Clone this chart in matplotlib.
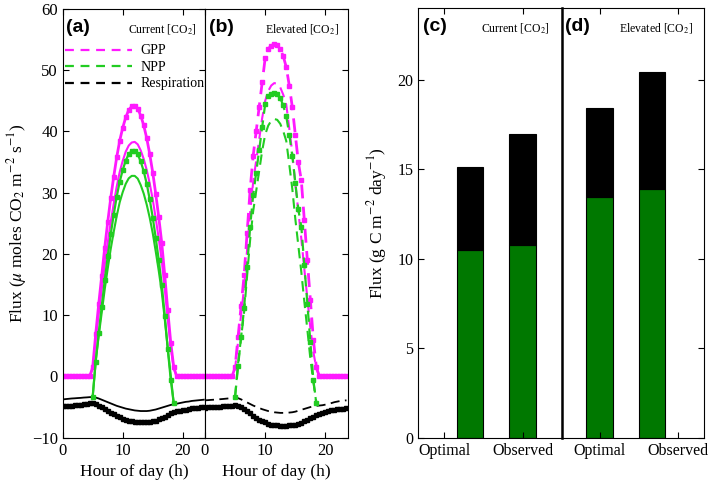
import numpy as np
import matplotlib.pyplot as plt
from matplotlib.lines import Line2D

plt.rcParams['font.family'] = ['Liberation Serif', 'DejaVu Serif']
plt.rcParams['mathtext.fontset'] = 'stix'

# ------------------------------------------------
# data: half-hourly fluxes (umol CO2 m-2 s-1)
# ------------------------------------------------
hours = np.arange(0, 24, 0.5)
night0 = [0.0] * 10   # 0.0 .. 4.5 h
night1 = [0.0] * 10   # 19.0 .. 23.5 h
nan0 = [np.nan] * 10
nan1 = [np.nan] * 10

# (a) current CO2, daytime part 5.0 .. 18.5 h
gpp_a_obs = night0 + [1.5, 6.9, 11.8, 16.4, 21.0, 25.2, 29.1, 32.6, 35.8, 38.5,
                      40.6, 42.3, 43.5, 44.1, 44.2, 43.7, 42.6, 41.0, 38.9, 36.3,
                      33.3, 29.8, 26.0, 21.8, 16.5, 10.8, 5.5, 1.5] + night1
gpp_a_opt = night0 + [1.3, 6.0, 10.2, 14.2, 18.2, 21.8, 25.2, 28.2, 31.0, 33.4,
                      35.2, 36.7, 37.7, 38.2, 38.3, 37.9, 36.9, 35.5, 33.7, 31.5,
                      28.9, 25.8, 22.5, 18.9, 14.3, 9.4, 4.8, 1.3] + night1
npp_a_obs = nan0 + [-3.3, 2.4, 7.05, 11.4, 15.7, 19.6, 23.2, 26.4, 29.35, 31.8,
                    33.7, 35.25, 36.3, 36.8, 36.8, 36.25, 35.1, 33.5, 31.45, 28.9,
                    25.95, 22.6, 19.0, 15.0, 9.95, 4.5, -0.55, -4.4] + nan1
npp_a_opt = nan0 + [-3.3, 2.55, 6.6, 10.4, 14.2, 17.6, 20.8, 23.6, 26.2, 28.45,
                    30.1, 31.45, 32.35, 32.75, 32.75, 32.3, 31.25, 29.85, 28.05, 25.9,
                    23.4, 20.4, 17.25, 13.8, 9.35, 4.6, 0.15, -4.4] + nan1
resp_a_obs = [-4.9, -4.85, -4.8, -4.75, -4.7, -4.65, -4.6, -4.5, -4.45, -4.4,
              -4.35, -4.5, -4.75, -5.0, -5.3, -5.6, -5.9, -6.2, -6.45, -6.7,
              -6.9, -7.05, -7.2, -7.3, -7.4, -7.45, -7.5, -7.5, -7.45, -7.4,
              -7.35, -7.2, -7.0, -6.8, -6.55, -6.3, -6.05, -5.85, -5.7, -5.6,
              -5.5, -5.4, -5.3, -5.2, -5.15, -5.1, -5.05, -5.0]
resp_a_opt = [-3.75, -3.7, -3.65, -3.6, -3.57, -3.53, -3.5, -3.45, -3.42, -3.38,
              -3.35, -3.45, -3.6, -3.8, -4.0, -4.2, -4.4, -4.6, -4.8, -4.95,
              -5.1, -5.25, -5.35, -5.45, -5.55, -5.6, -5.65, -5.65, -5.65, -5.6,
              -5.5, -5.4, -5.25, -5.1, -4.95, -4.8, -4.65, -4.55, -4.45, -4.35,
              -4.25, -4.15, -4.1, -4.0, -3.95, -3.9, -3.85, -3.8]

# (b) elevated CO2
gpp_b_obs = night0 + [1.5, 6.5, 11.5, 16.5, 23.5, 30.5, 36.0, 40.0, 44.0, 48.0,
                      52.0, 53.5, 54.0, 54.3, 54.2, 53.5, 52.3, 50.5, 47.5, 44.0,
                      39.5, 35.0, 32.0, 25.5, 19.0, 12.5, 6.0, 1.5] + night1
gpp_b_opt = night0 + [1.3, 5.7, 10.1, 14.5, 20.7, 26.8, 31.7, 35.2, 38.7, 42.2,
                      45.0, 46.6, 47.5, 47.9, 47.8, 47.2, 46.0, 44.4, 40.5, 36.5,
                      31.5, 27.0, 22.5, 17.5, 12.8, 7.9, 4.0, 1.3] + night1
npp_b_obs = nan0 + [-3.3, 1.7, 6.45, 11.15, 17.8, 24.45, 29.6, 33.25, 36.95, 40.7,
                    44.5, 45.8, 46.15, 46.35, 46.2, 45.45, 44.25, 42.45, 39.5, 36.05,
                    31.65, 27.3, 24.45, 18.15, 11.9, 5.65, -0.6, -4.4] + nan1
npp_b_opt = nan0 + [-3.3, 2.15, 6.35, 10.5, 16.45, 22.3, 26.95, 30.25, 33.55, 36.85,
                    39.5, 40.95, 41.75, 42.05, 41.9, 41.25, 40.05, 38.45, 34.6, 30.65,
                    25.75, 21.4, 17.05, 12.2, 7.65, 2.9, -0.9, -4.4] + nan1
resp_b_obs = [-5.1, -5.07, -5.05, -5.0, -4.98, -4.95, -4.9, -4.85, -4.8, -4.75,
              -4.7, -4.8, -5.05, -5.35, -5.7, -6.05, -6.4, -6.75, -7.05, -7.3,
              -7.5, -7.7, -7.85, -7.95, -8.0, -8.05, -8.05, -8.05, -8.0, -7.95,
              -7.85, -7.7, -7.55, -7.35, -7.1, -6.85, -6.6, -6.35, -6.15, -5.95,
              -5.8, -5.65, -5.55, -5.45, -5.35, -5.3, -5.25, -5.2]
resp_b_opt = [-3.9, -3.87, -3.83, -3.8, -3.76, -3.72, -3.68, -3.63, -3.58, -3.52,
              -3.45, -3.55, -3.75, -4.0, -4.25, -4.5, -4.75, -4.95, -5.15, -5.35,
              -5.5, -5.65, -5.75, -5.85, -5.9, -5.95, -5.95, -5.95, -5.9, -5.85,
              -5.75, -5.6, -5.45, -5.3, -5.15, -5.0, -4.9, -4.8, -4.75, -4.7,
              -4.6, -4.5, -4.35, -4.2, -4.1, -4.0, -3.95, -3.9]

# daily totals (g C m-2 day-1): NPP (green) + respiration (black) stacked
bar_labels = ['Optimal', 'Observed']
npp_cur = [10.48, 10.78]
tot_cur = [15.11, 16.98]
npp_ele = [13.47, 13.92]
tot_ele = [18.41, 20.45]

MAG = '#ff19ff'
GRN = '#22cc22'
BARG = '#007800'

fig = plt.figure(figsize=(7.09, 4.84), dpi=100)
ax_a = fig.add_axes([0.0884, 0.0957, 0.2007, 0.8857])
ax_b = fig.add_axes([0.2891, 0.0957, 0.2013, 0.8857], sharey=ax_a)
ax_c = fig.add_axes([0.5896, 0.0957, 0.2027, 0.8872])
ax_d = fig.add_axes([0.7922, 0.0957, 0.2007, 0.8872], sharey=ax_c)


def draw_day(ax, gpp_obs, gpp_opt, npp_obs, npp_opt, r_obs, r_opt, ls):
    ax.plot(hours, r_opt, color='black', lw=1.3, ls=ls)
    ax.plot(hours, r_obs, color='black', lw=1.5, marker='s', ms=3.2)
    ax.plot(hours, gpp_opt, color=MAG, lw=1.5, ls=ls)
    ax.plot(hours, gpp_obs, color=MAG, lw=2.0, ls=ls, marker='s', ms=3.2)
    ax.plot(hours, npp_opt, color=GRN, lw=1.5, ls=ls)
    ax.plot(hours, npp_obs, color=GRN, lw=1.6, ls=ls, marker='s', ms=3.2)


draw_day(ax_a, gpp_a_obs, gpp_a_opt, npp_a_obs, npp_a_opt, resp_a_obs, resp_a_opt, '-')
draw_day(ax_b, gpp_b_obs, gpp_b_opt, npp_b_obs, npp_b_opt, resp_b_obs, resp_b_opt, (0, (5, 3)))

for ax in (ax_a, ax_b):
    ax.set_xlim(0, 23.7)
    ax.set_xticks([0, 10, 20])
    ax.set_xlabel('Hour of day (h)', fontsize=12.5)
    ax.tick_params(direction='in', top=True, labelsize=12, length=4)
ax_a.set_ylim(-10, 60)
ax_a.set_yticks(np.arange(-10, 61, 10))
ax_a.tick_params(axis='y', right=True)
ax_b.tick_params(axis='y', left=False, right=True, labelleft=False)
ax_a.set_ylabel(r'Flux ($\mu$ moles CO$_2$ m$^{-2}$ s$^{-1}$)', fontsize=12.5, labelpad=2)

handles = [Line2D([], [], color=c, lw=1.6, ls=(0, (4, 3))) for c in (MAG, GRN, 'black')]
ax_a.legend(handles, ['GPP', 'NPP', 'Respiration'], loc='upper left',
            bbox_to_anchor=(-0.05, 0.94), frameon=False, fontsize=10,
            handlelength=4.8, handletextpad=0.6, labelspacing=0.25,
            borderaxespad=0.3)

# bars
x_bar_c = [2, 4]
x_bar_d = [1, 3]
ax_c.bar(x_bar_c, npp_cur, width=1.0, color=BARG, edgecolor='black', lw=0.8)
ax_c.bar(x_bar_c, np.array(tot_cur) - np.array(npp_cur), bottom=npp_cur, width=1.0,
         color='black', edgecolor='black', lw=0.8)
ax_d.bar(x_bar_d, npp_ele, width=1.0, color=BARG, edgecolor='black', lw=0.8)
ax_d.bar(x_bar_d, np.array(tot_ele) - np.array(npp_ele), bottom=npp_ele, width=1.0,
         color='black', edgecolor='black', lw=0.8)

ax_c.set_xlim(0, 5.5)
ax_d.set_xlim(-0.45, 5.0)
for ax in (ax_c, ax_d):
    ax.set_xticks([1, 4])
    ax.set_xticklabels(bar_labels)
    ax.tick_params(direction='in', top=True, labelsize=11.5, length=4)
ax_c.set_ylim(0, 24)
ax_c.set_yticks([0, 5, 10, 15, 20])
ax_c.tick_params(axis='y', right=False)
ax_d.tick_params(axis='y', left=False, right=True, labelleft=False)
ax_c.set_ylabel(r'Flux (g C m$^{-2}$ day$^{-1}$)', fontsize=12.5, labelpad=6)
ax_d.spines['left'].set_linewidth(1.8)

# panel annotations
for ax, tag, lab, xl, xr in ((ax_a, '(a)', 'Current [CO$_2$]', 0.02, 0.94),
                             (ax_b, '(b)', 'Elevated [CO$_2$]', 0.03, 0.94),
                             (ax_c, '(c)', 'Current [CO$_2$]', 0.035, 0.92),
                             (ax_d, '(d)', 'Elevated [CO$_2$]', 0.025, 0.925)):
    ax.text(xl, 0.958, tag, transform=ax.transAxes, ha='left', va='center',
            fontsize=14, fontweight='bold', family='Liberation Sans')
    ax.text(xr, 0.953, lab, transform=ax.transAxes, ha='right', va='center', fontsize=8.5)

fig.savefig('out.png', dpi=100)
